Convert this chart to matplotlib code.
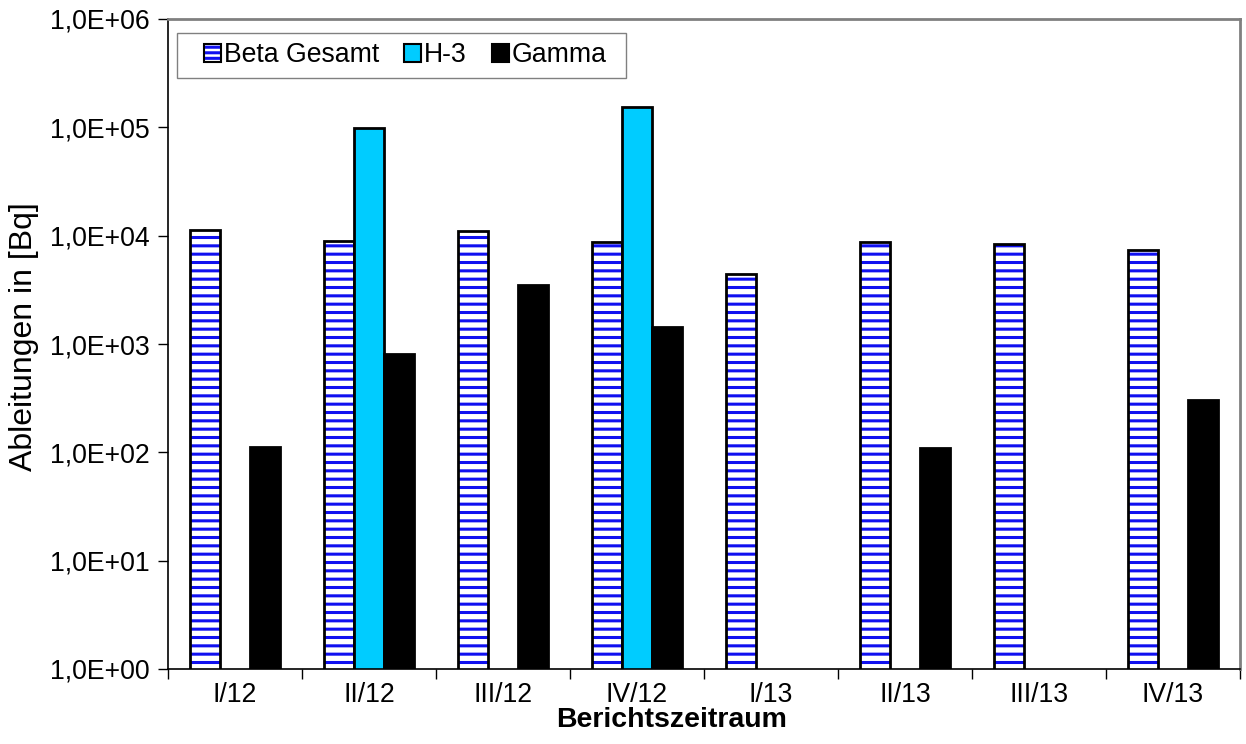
import numpy as np
import matplotlib
matplotlib.use("Agg")
import matplotlib.pyplot as plt
from matplotlib.ticker import FixedLocator, NullLocator
from matplotlib.patches import Patch, Rectangle

plt.rcParams['font.family'] = ['Liberation Sans', 'DejaVu Sans']
plt.rcParams['hatch.linewidth'] = 2.2

categories = ["I/12", "II/12", "III/12", "IV/12", "I/13", "II/13", "III/13", "IV/13"]
beta = [11400, 9000, 11100, 8800, 4460, 8800, 8440, 7430]
h3 = [np.nan, 99000, np.nan, 155000, np.nan, np.nan, np.nan, np.nan]
gamma = [111, 817, 3535, 1450, np.nan, 109, np.nan, 301]
ytick_vals = [1e0, 1e1, 1e2, 1e3, 1e4, 1e5, 1e6]
ytick_labels = ["1,0E+00", "1,0E+01", "1,0E+02", "1,0E+03", "1,0E+04", "1,0E+05", "1,0E+06"]

FS = 19.2
W, H = 1246, 744
fig = plt.figure(figsize=(W / 100, H / 100), dpi=100)
ax = fig.add_axes([168/W, 75/H, (1240-168)/W, (669-19)/H])

x = np.arange(len(categories))
w = 0.225
# hatch layer (blue lines)
ax.bar(x - w, beta, w, color='white', edgecolor='#1010F0', linewidth=0, hatch='--')
# outline layer
ax.bar(x - w, beta, w, fill=False, edgecolor='black', linewidth=2.0)
ax.bar(x, h3, w, color='#00CCFF', edgecolor='black', linewidth=2.0)
ax.bar(x + w, gamma, w, color='black', edgecolor='black', linewidth=2.0)

ax.set_yscale('log')
ax.set_ylim(1, 1e6)
ax.set_xlim(-0.5, len(categories) - 0.5)
ax.yaxis.set_major_locator(FixedLocator(ytick_vals))
ax.yaxis.set_minor_locator(NullLocator())
ax.set_yticks(ytick_vals)
ax.set_yticklabels(ytick_labels)

ax.set_xticks(x)
ax.set_xticklabels(categories)
ax.tick_params(axis='x', which='major', length=0, pad=9, labelsize=FS)
ax.set_xticks(np.arange(-0.5, len(categories)), minor=True)
ax.tick_params(axis='x', which='minor', length=7, width=1, direction='out')
ax.tick_params(axis='y', which='major', length=7, width=1, direction='out', labelsize=FS, pad=6)

for s in ['top', 'right']:
    ax.spines[s].set_color('#808080')
    ax.spines[s].set_linewidth(2)
for s in ['left', 'bottom']:
    ax.spines[s].set_color('black')
    ax.spines[s].set_linewidth(1.2)

ax.set_ylabel('Ableitungen in [Bq]', fontsize=23)
ax.yaxis.label.set_va('center')
ax.yaxis.set_label_coords((24 - 168) / 1072, (669 - 337) / 650)
ax.set_xlabel('Berichtszeitraum', fontsize=20.5, fontweight='bold')
ax.xaxis.label.set_va('center')
ax.xaxis.set_label_coords((672 - 168) / 1072, (669 - 720) / 650)

handles = [
    Patch(facecolor='white', edgecolor='#1010F0', hatch='---', linewidth=0),
    Patch(facecolor='#00CCFF', edgecolor='black', linewidth=1.5),
    Patch(facecolor='black', edgecolor='black', linewidth=1.5),
]
leg = ax.legend(handles, ['Beta Gesamt', 'H-3', 'Gamma'], loc='center',
                bbox_to_anchor=(405.5 / W, (H - 55.5) / H), bbox_transform=fig.transFigure,
                ncol=3, fontsize=FS, frameon=False, borderpad=0,
                handlelength=0.64, handleheight=0.64, handletextpad=0.1, columnspacing=0.95,
                borderaxespad=0)
# legend frame
frame = Rectangle((177 / W, (H - 78) / H), 449 / W, 45 / H, transform=fig.transFigure,
                  facecolor='white', edgecolor='#808080', linewidth=1.0, zorder=4)
ax.add_artist(frame)
frame.set_clip_on(False)
leg.set_zorder(5)
# outline for beta legend handle
fig.canvas.draw()
bb = leg.legend_handles[0].get_window_extent()
rect = Rectangle((bb.x0, bb.y0), bb.width, bb.height, transform=None, fill=False,
                 edgecolor='black', linewidth=1.5, zorder=10)
rect.set_figure(fig)
fig.artists.append(rect)

fig.savefig('out.png', dpi=100)
